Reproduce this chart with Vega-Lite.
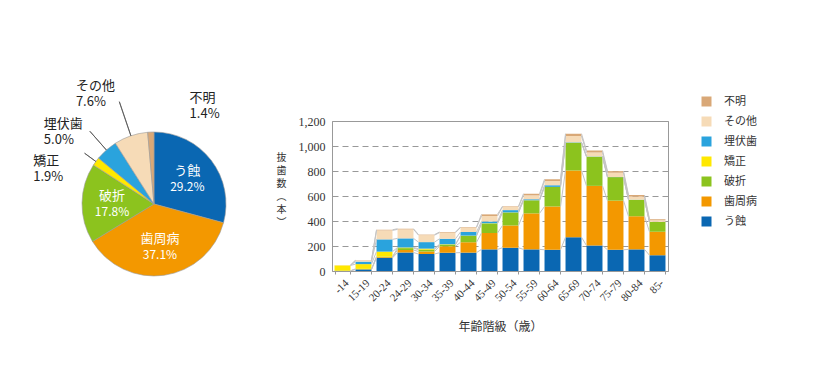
{
  "$schema": "https://vega.github.io/schema/vega-lite/v6.json",
  "padding": {"left": 33, "top": 80, "right": 0, "bottom": 0},
  "bounds": "flush",
  "spacing": 78,
  "config": {
    "font": "Noto Sans CJK JP",
    "view": {"stroke": null},
    "axis": {"labelColor": "#333", "titleColor": "#333", "titleFontWeight": "normal"},
    "legend": {"labelColor": "#333"}
  },
  "datasets": {
    "pie": [
      {"cause": "う蝕", "pct": 29.2},
      {"cause": "歯周病", "pct": 37.1},
      {"cause": "破折", "pct": 17.8},
      {"cause": "矯正", "pct": 1.9},
      {"cause": "埋伏歯", "pct": 5.0},
      {"cause": "その他", "pct": 7.6},
      {"cause": "不明", "pct": 1.4}
    ],
    "bars": [
      {"age": "-14", "う蝕": 2, "歯周病": 0, "破折": 0, "矯正": 43, "埋伏歯": 0, "その他": 2, "不明": 0},
      {"age": "15-19", "う蝕": 12, "歯周病": 2, "破折": 3, "矯正": 38, "埋伏歯": 20, "その他": 10, "不明": 2},
      {"age": "20-24", "う蝕": 105, "歯周病": 6, "破折": 4, "矯正": 40, "埋伏歯": 98, "その他": 72, "不明": 5},
      {"age": "24-29", "う蝕": 148, "歯周病": 20, "破折": 15, "矯正": 5, "埋伏歯": 73, "その他": 72, "不明": 5},
      {"age": "30-34", "う蝕": 136, "歯周病": 20, "破折": 15, "矯正": 8, "埋伏歯": 52, "その他": 56, "不明": 4},
      {"age": "35-39", "う蝕": 146, "歯周病": 52, "破折": 13, "矯正": 3, "埋伏歯": 44, "その他": 49, "不明": 5},
      {"age": "40-44", "う蝕": 147, "歯周病": 83, "破折": 51, "矯正": 2, "埋伏歯": 29, "その他": 36, "不明": 4},
      {"age": "45-49", "う蝕": 173, "歯周病": 131, "破折": 76, "矯正": 2, "埋伏歯": 14, "その他": 44, "不明": 13},
      {"age": "50-54", "う蝕": 186, "歯周病": 178, "破折": 104, "矯正": 1, "埋伏歯": 18, "その他": 27, "不明": 4},
      {"age": "55-59", "う蝕": 173, "歯周病": 288, "破折": 104, "矯正": 1, "埋伏歯": 8, "その他": 31, "不明": 13},
      {"age": "60-64", "う蝕": 170, "歯周病": 346, "破折": 156, "矯正": 1, "埋伏歯": 13, "その他": 34, "不明": 14},
      {"age": "65-69", "う蝕": 270, "歯周病": 534, "破折": 222, "矯正": 1, "埋伏歯": 3, "その他": 50, "不明": 18},
      {"age": "70-74", "う蝕": 204, "歯周病": 477, "破折": 233, "矯正": 1, "埋伏歯": 2, "その他": 31, "不明": 16},
      {"age": "75-79", "う蝕": 170, "歯周病": 393, "破折": 188, "矯正": 0, "埋伏歯": 1, "その他": 34, "不明": 13},
      {"age": "80-84", "う蝕": 173, "歯周病": 265, "破折": 132, "矯正": 0, "埋伏歯": 1, "その他": 24, "不明": 13},
      {"age": "85-", "う蝕": 126, "歯周病": 188, "破折": 78, "矯正": 0, "埋伏歯": 1, "その他": 13, "不明": 8}
    ]
  },
  "hconcat": [
    {
      "width": 200,
      "height": 166,
      "view": {"stroke": null},
      "data": {"name": "pie"},
      "transform": [
        {"window": [{"op": "row_number", "as": "idx"}]},
        {"stack": "pct", "groupby": [], "sort": [{"field": "idx", "order": "ascending"}], "as": ["p0", "p1"]},
        {"calculate": "(datum.p0 + datum.p1) / 2", "as": "mid"},
        {"calculate": "format(datum.pct, '.1f') + '%'", "as": "lbl"},
        {"calculate": "datum.cause + '\\n' + datum.lbl", "as": "full"}
      ],
      "layer": [
        {
          "mark": {"type": "arc", "radius": 72, "stroke": "#9a9a9a", "strokeWidth": 0.6},
          "encoding": {
            "theta": {"field": "p0", "type": "quantitative", "scale": {"domain": [0, 100], "range": [0, 6.283185307179586]}},
            "theta2": {"field": "p1"},
            "color": {
              "field": "cause", "type": "nominal",
              "scale": {
                "domain": ["不明", "その他", "埋伏歯", "矯正", "破折", "歯周病", "う蝕"],
                "range": ["#d9a877", "#f6dbb7", "#2aa3dd", "#ffe800", "#8cc31e", "#f39800", "#0a67b2"]
              }
            }
          }
        },
        {
          "transform": [{"filter": "datum.idx <= 3"}],
          "mark": {"type": "text", "radius": 42, "dy": -7, "color": "white", "fontSize": 13},
          "encoding": {
            "theta": {"field": "mid", "type": "quantitative"},
            "text": {"field": "cause"}
          }
        },
        {
          "transform": [{"filter": "datum.idx <= 3"}],
          "mark": {"type": "text", "radius": 42, "dy": 9, "color": "white", "fontSize": 12},
          "encoding": {
            "theta": {"field": "mid", "type": "quantitative"},
            "text": {"field": "lbl"}
          }
        },
        {
          "transform": [{"filter": "datum.cause == '矯正'"}],
          "mark": {"type": "arc", "radius": 86, "radius2": 72, "fillOpacity": 0, "stroke": "#555", "strokeWidth": 0.8},
          "encoding": {"theta": {"field": "mid", "type": "quantitative"}, "theta2": {"field": "mid"}}
        },
        {
          "transform": [{"filter": "datum.cause == '埋伏歯'"}],
          "mark": {"type": "arc", "radius": 97, "radius2": 72, "fillOpacity": 0, "stroke": "#555", "strokeWidth": 0.8},
          "encoding": {"theta": {"field": "mid", "type": "quantitative"}, "theta2": {"field": "mid"}}
        },
        {
          "transform": [{"filter": "datum.cause == 'その他'"}],
          "mark": {"type": "arc", "radius": 108, "radius2": 72, "fillOpacity": 0, "stroke": "#555", "strokeWidth": 0.8},
          "encoding": {"theta": {"field": "mid", "type": "quantitative"}, "theta2": {"field": "mid"}}
        },
        {
          "transform": [{"filter": "datum.cause == '矯正'"}],
          "mark": {"type": "text", "radius": 100, "dx": -40, "dy": 16, "align": "left", "baseline": "middle", "lineBreak": "\n", "lineHeight": 16, "fontSize": 13, "color": "#222"},
          "encoding": {"theta": {"field": "mid", "type": "quantitative"}, "text": {"field": "full"}}
        },
        {
          "transform": [{"filter": "datum.cause == '埋伏歯'"}],
          "mark": {"type": "text", "radius": 100, "dx": -44, "dy": -5, "align": "left", "baseline": "middle", "lineBreak": "\n", "lineHeight": 16, "fontSize": 13, "color": "#222"},
          "encoding": {"theta": {"field": "mid", "type": "quantitative"}, "text": {"field": "full"}}
        },
        {
          "transform": [{"filter": "datum.cause == 'その他'"}],
          "mark": {"type": "text", "radius": 100, "dx": -46, "dy": -23, "align": "left", "baseline": "middle", "lineBreak": "\n", "lineHeight": 16, "fontSize": 13, "color": "#222"},
          "encoding": {"theta": {"field": "mid", "type": "quantitative"}, "text": {"field": "full"}}
        },
        {
          "transform": [{"filter": "datum.cause == '不明'"}],
          "mark": {"type": "text", "radius": 100, "dx": 40, "dy": -6, "align": "left", "baseline": "middle", "lineBreak": "\n", "lineHeight": 16, "fontSize": 13, "color": "#222"},
          "encoding": {"theta": {"field": "mid", "type": "quantitative"}, "text": {"field": "full"}}
        }
      ]
    },
    {
      "width": 336,
      "height": 150,
      "view": {"stroke": "#999", "strokeWidth": 1},
      "data": {"name": "bars"},
      "transform": [
        {"window": [{"op": "row_number", "as": "ai"}]},
        {"fold": ["う蝕", "歯周病", "破折", "矯正", "埋伏歯", "その他", "不明"], "as": ["cause", "n"]},
        {"calculate": "indexof(['う蝕','歯周病','破折','矯正','埋伏歯','その他','不明'], datum.cause)", "as": "ci"},
        {"stack": "n", "groupby": ["age"], "sort": [{"field": "ci", "order": "ascending"}], "as": ["y0", "y1"]},
        {"window": [{"op": "lead", "field": "y1", "as": "ny1"}, {"op": "lead", "field": "age", "as": "nage"}], "groupby": ["cause"], "sort": [{"field": "ai", "order": "ascending"}]}
      ],
      "encoding": {
        "y": {
          "field": "y1", "type": "quantitative",
          "scale": {"domain": [0, 1200]},
          "axis": {
            "values": [0, 200, 400, 600, 800, 1000, 1200], "format": ",d", "labelOverlap": false,
            "title": ["抜", "歯", "数", "︵", "本", "︶"],
            "titleAngle": 0, "titleAlign": "center", "titleBaseline": "middle", "titleX": -51, "titleY": 36,
            "titleFontSize": 10, "titleLineHeight": 13,
            "labelFont": "Liberation Sans Narrow", "labelFontSize": 12, "labelPadding": 7,
            "domain": false, "ticks": false,
            "grid": true, "gridDash": [6, 4], "gridColor": "#999", "gridWidth": 1
          }
        }
      },
      "layer": [
        {
          "mark": {"type": "bar"},
          "encoding": {
            "x": {
              "field": "age", "type": "nominal",
              "sort": ["-14", "15-19", "20-24", "24-29", "30-34", "35-39", "40-44", "45-49", "50-54", "55-59", "60-64", "65-69", "70-74", "75-79", "80-84", "85-"],
              "scale": {"paddingInner": 0.24, "paddingOuter": 0.12},
              "axis": {
                "title": "年齢階級（歳）", "titleFontSize": 12, "titlePadding": 19,
                "labelAngle": -45, "labelFont": "Liberation Sans Narrow", "labelFontSize": 11,
                "domain": false, "ticks": true, "tickBand": "extent", "tickSize": 3, "tickColor": "#999", "labelPadding": 3
              }
            },
            "y2": {"field": "y0"},
            "color": {
              "field": "cause", "type": "nominal",
              "scale": {
                "domain": ["不明", "その他", "埋伏歯", "矯正", "破折", "歯周病", "う蝕"],
                "range": ["#d9a877", "#f6dbb7", "#2aa3dd", "#ffe800", "#8cc31e", "#f39800", "#0a67b2"]
              },
              "legend": {
                "title": null, "orient": "none", "legendX": 647, "legendY": -25,
                "symbolType": "square", "symbolSize": 100, "symbolStrokeWidth": 0,
                "labelFontSize": 11, "labelOffset": 12, "rowPadding": 8, "padding": 0
              }
            }
          }
        },
        {
          "transform": [{"filter": "datum.nage != null"}],
          "mark": {"type": "rule", "color": "#c4c4c4", "strokeWidth": 1, "xOffset": 8, "x2Offset": -8},
          "encoding": {
            "x": {"field": "age", "type": "nominal", "bandPosition": 0.5,
              "sort": ["-14", "15-19", "20-24", "24-29", "30-34", "35-39", "40-44", "45-49", "50-54", "55-59", "60-64", "65-69", "70-74", "75-79", "80-84", "85-"]},
            "x2": {"field": "nage", "bandPosition": 0.5},
            "y2": {"field": "ny1"}
          }
        }
      ]
    }
  ],
  "resolve": {"scale": {"color": "shared"}}
}
